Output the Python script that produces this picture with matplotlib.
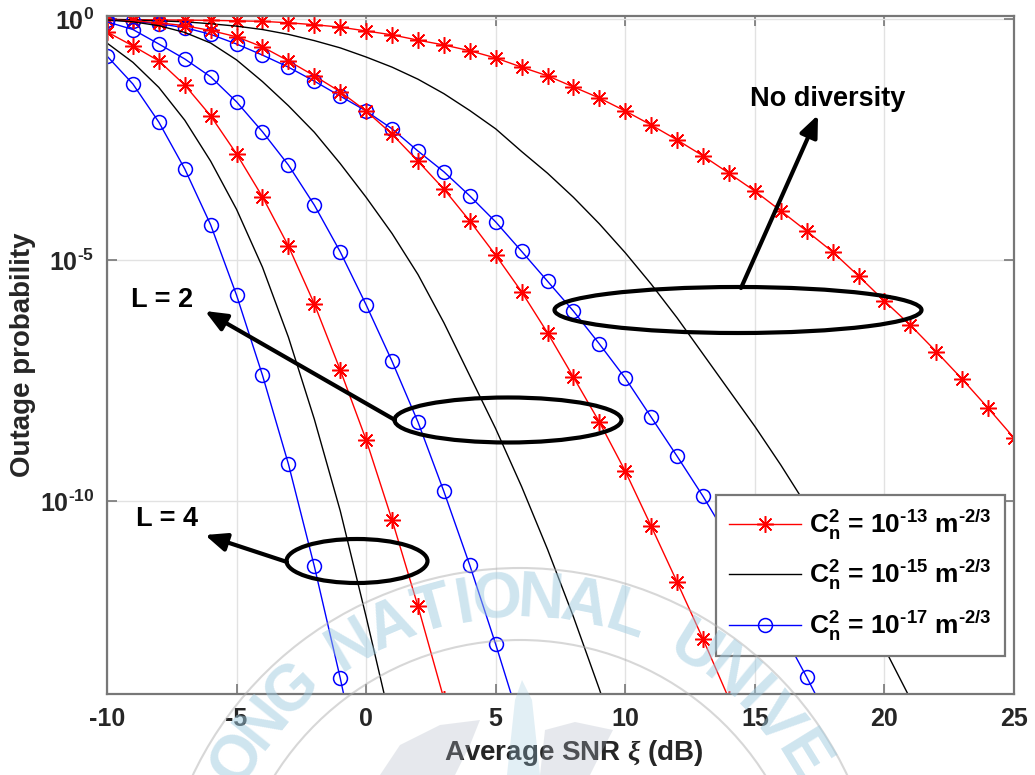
import numpy as np
import matplotlib
matplotlib.use("Agg")
import matplotlib.pyplot as plt
from matplotlib.patches import Ellipse, Arc, Polygon

# %%
# Fonts: Arial-like bold everywhere (MATLAB look)
plt.rcParams['font.family'] = ['Liberation Sans', 'DejaVu Sans']
plt.rcParams['font.weight'] = 'bold'
plt.rcParams['axes.labelweight'] = 'bold'
plt.rcParams['mathtext.fontset'] = 'custom'
plt.rcParams['mathtext.rm'] = 'Liberation Sans:bold'
plt.rcParams['mathtext.bf'] = 'Liberation Sans:bold'
plt.rcParams['mathtext.it'] = 'Liberation Serif:italic'
plt.rcParams['mathtext.default'] = 'bf'

# %%
# Data: log10 of outage probability at each SNR (dB)
# No diversity (L = 1)
snr_l1_c13 = np.arange(-10, 26)
logp_l1_c13 = [-0.01, -0.015, -0.02, -0.025, -0.03, -0.04, -0.05, -0.08, -0.12, -0.17,
               -0.25, -0.33, -0.44, -0.54, -0.66, -0.81, -1.0, -1.18, -1.41, -1.64,
               -1.91, -2.2, -2.51, -2.84, -3.2, -3.57, -3.98, -4.40, -4.83, -5.33,
               -5.85, -6.35, -6.9, -7.47, -8.07, -8.69]
snr_l1_c15 = np.arange(-10, 22)
logp_l1_c15 = [-0.01, -0.02, -0.04, -0.06, -0.1, -0.15, -0.22, -0.32, -0.45, -0.6,
               -0.79, -1.0, -1.25, -1.55, -1.9, -2.28, -2.75, -3.2, -3.7, -4.25,
               -4.85, -5.5, -6.2, -6.95, -7.7, -8.45, -9.25, -10.1, -11.0, -12.0,
               -13.05, -14.1]
snr_l1_c17 = np.arange(-10, 19)
logp_l1_c17 = [-0.02, -0.05, -0.1, -0.18, -0.32, -0.52, -0.75, -1.0, -1.29, -1.6,
               -1.91, -2.28, -2.74, -3.17, -3.67, -4.21, -4.82, -5.44, -6.06, -6.74,
               -7.45, -8.26, -9.07, -9.9, -10.8, -11.7, -12.65, -13.65, -14.7]

# L = 2
snr_l2_c13 = np.arange(-10, 15)
logp_l2_c13 = [-0.02, -0.04, -0.08, -0.14, -0.24, -0.37, -0.58, -0.87, -1.18, -1.51,
               -1.91, -2.39, -2.95, -3.53, -4.19, -4.9, -5.66, -6.51, -7.43, -8.36,
               -9.38, -10.52, -11.68, -12.86, -14.1]
snr_l2_c15 = np.arange(-10, 11)
logp_l2_c15 = [-0.02, -0.06, -0.14, -0.28, -0.5, -0.85, -1.3, -1.8, -2.35, -3.0,
               -3.7, -4.45, -5.3, -6.3, -7.4, -8.5, -9.7, -11.0, -12.4, -13.9, -15.5]
snr_l2_c17 = np.arange(-10, 7)
logp_l2_c17 = [-0.06, -0.22, -0.52, -0.83, -1.2, -1.72, -2.34, -3.03, -3.86, -4.83,
               -5.93, -7.1, -8.36, -9.8, -11.33, -12.97, -14.7]

# L = 4
snr_l4_c13 = np.arange(-10, 4)
logp_l4_c13 = [-0.27, -0.56, -0.87, -1.37, -2.01, -2.8, -3.69, -4.71, -5.91, -7.28,
               -8.73, -10.39, -12.18, -14.1]
snr_l4_c15 = np.arange(-10, 2)
logp_l4_c15 = [-0.5, -0.9, -1.42, -2.1, -2.95, -3.95, -5.15, -6.6, -8.3, -10.2,
               -12.4, -14.7]
snr_l4_c17 = np.arange(-10, 1)
logp_l4_c17 = [-0.77, -1.35, -2.14, -3.11, -4.27, -5.73, -7.39, -9.23, -11.35, -13.67,
               -16.2]

labels = [r'$C_n^2$ = 10$^{\text{-13}}$ m$^{\text{-2/3}}$',
          r'$C_n^2$ = 10$^{\text{-15}}$ m$^{\text{-2/3}}$',
          r'$C_n^2$ = 10$^{\text{-17}}$ m$^{\text{-2/3}}$']
xticks = [-10, -5, 0, 5, 10, 15, 20, 25]
yticks = [1e0, 1e-5, 1e-10]
ytick_labels = [r'10$^{\text{0}}$', r'10$^{\text{-5}}$', r'10$^{\text{-10}}$']

# %%
W, H = 1035, 775
fig = plt.figure(figsize=(W / 100, H / 100), dpi=100)
ax = fig.add_axes([107 / W, 1 - 694 / H, 907 / W, 678 / H])

# MATLAB-style asterisk (+ and x together)
star = (8, 2, 0)
red_kw = dict(color='#ff0000', lw=1.0, marker=star, ms=12, mew=1.1)
blk_kw = dict(color='black', lw=1.0)
blu_kw = dict(color='#0000ff', lw=1.0, marker='o', ms=10, mfc='none', mew=1.1)

groups = [(snr_l1_c13, logp_l1_c13, snr_l1_c15, logp_l1_c15, snr_l1_c17, logp_l1_c17),
          (snr_l2_c13, logp_l2_c13, snr_l2_c15, logp_l2_c15, snr_l2_c17, logp_l2_c17),
          (snr_l4_c13, logp_l4_c13, snr_l4_c15, logp_l4_c15, snr_l4_c17, logp_l4_c17)]
for i, (xr, yr, xk, yk, xb, yb) in enumerate(groups):
    lab = labels if i == 0 else [None, None, None]
    ax.semilogy(xr, 10.0 ** np.array(yr), label=lab[0], **red_kw)
    ax.semilogy(xk, 10.0 ** np.array(yk), label=lab[1], **blk_kw)
    ax.semilogy(xb, 10.0 ** np.array(yb), label=lab[2], **blu_kw)

ax.set_xlim(-10, 25)
ax.set_ylim(1e-14, 1.15)
ax.set_xticks(xticks)
ax.set_xticklabels([str(t) for t in xticks])
ax.set_yticks(yticks)
ax.set_yticklabels(ytick_labels)
ax.yaxis.set_minor_locator(matplotlib.ticker.NullLocator())
ax.tick_params(which='both', direction='in', length=7, width=1.2, color='#777777',
               labelsize=18, labelcolor='#262626', top=True, right=True, pad=9)
ax.grid(True, color='#e2e2e2', lw=1.0)
ax.set_axisbelow(True)
for s in ax.spines.values():
    s.set_color('#777777')
    s.set_linewidth(1.6)

ax.set_xlabel(r'Average SNR $\mathit{\xi}$ (dB)', fontsize=20, color='#262626', va='center')
ax.xaxis.set_label_coords((574 - 107) / 907, -(753 - 694) / 678)
ax.set_ylabel('Outage probability', fontsize=20, color='#262626', va='center')
ax.yaxis.set_label_coords(-(107 - 23) / 907, 0.5)

leg = ax.legend(loc='lower right', bbox_to_anchor=(0.990, 0.056), borderaxespad=0,
                fontsize=19, fancybox=False, edgecolor='#777777', framealpha=1,
                handlelength=2.75, labelspacing=0.62, handletextpad=0.3,
                borderpad=0.5)
leg.get_frame().set_linewidth(1.6)

# %%
# Annotations (pixel positions on the canvas)
def fp(px, py):
    return (px / W, 1 - py / H)

for cx, cy, w, h in [(738, 310, 367, 46), (508, 420, 227, 45), (357, 561, 141, 44)]:
    fig.patches.append(Ellipse(fp(cx, cy), w / W, h / H, transform=fig.transFigure,
                               fill=False, ec='black', lw=3.0, zorder=5))

arrows = [((741, 288), (818, 115)), ((395, 420), (205, 311)), ((287, 562), (205, 535))]
for tail, tip in arrows:
    ax.annotate('', xy=fp(*tip), xytext=fp(*tail), xycoords='figure fraction',
                textcoords='figure fraction',
                arrowprops=dict(arrowstyle='-|>,head_length=1.3,head_width=0.55',
                                lw=3.0, color='black', shrinkA=0, shrinkB=0))

fig.text(*fp(828, 99), 'No diversity', fontsize=19.5, ha='center', va='center')
fig.text(*fp(162, 300), 'L = 2', fontsize=19.5, ha='center', va='center')
fig.text(*fp(167, 519), 'L = 4', fontsize=19.5, ha='center', va='center')

# %%
# Faint university seal watermark (letters along an arc, plus emblem shapes)
seal_cx, seal_cy, seal_r = 520, 930, 330
unit = 7.6
steps = {'I': 0.5, ' ': 0.7}
ang = -58.7 - unit / 2
for ch in "ONG NATIONAL UNIVE":
    step = steps.get(ch, 1.0) * unit
    a = ang + step / 2
    px = seal_cx + seal_r * np.sin(np.radians(a))
    py = seal_cy - seal_r * np.cos(np.radians(a))
    if ch != ' ':
        fig.text(*fp(px, py), ch, fontsize=46, color='#9fcbe0', alpha=0.5,
                 rotation=-a, ha='center', va='center', rotation_mode='anchor',
                 zorder=4)
    ang += step
for r in (362, 290):
    fig.patches.append(Arc(fp(seal_cx, seal_cy), 2 * r / W, 2 * r / H,
                           transform=fig.transFigure, theta1=20, theta2=160,
                           color='#b0b0b0', lw=1.5, alpha=0.5, zorder=4))
emblem = [([(380, 775), (400, 745), (440, 725), (480, 720), (470, 745), (455, 775)], '#aeb6c4'),
          ([(540, 775), (545, 730), (575, 722), (613, 730), (600, 755), (590, 775)], '#aeb6c4'),
          ([(507, 775), (515, 700), (522, 680), (532, 700), (540, 775)], '#9fcbe0')]
for pts, col in emblem:
    fig.patches.append(Polygon([fp(*p) for p in pts], closed=True, transform=fig.transFigure,
                               fc=col, ec='none', alpha=0.3, zorder=4))

fig.savefig('out.png', dpi=100)
